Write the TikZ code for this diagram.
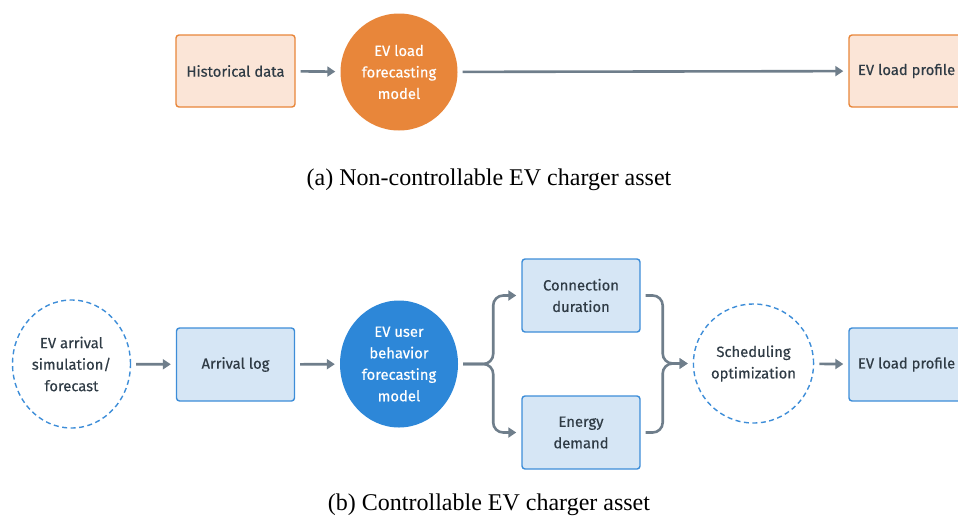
\documentclass[tikz,border=0pt]{standalone}
\usepackage{fontspec}
\setmainfont{Liberation Serif}
\newfontfamily\nodefont{Fira Sans}[FakeBold=0.4]
\usetikzlibrary{shapes.geometric,arrows.meta}
\definecolor{orfill}{HTML}{E8863A}
\definecolor{orlight}{HTML}{FBE5D7}
\definecolor{bluefill}{HTML}{2D87D8}
\definecolor{bluelight}{HTML}{D6E6F5}
\definecolor{blueline}{HTML}{3D8DD8}
\definecolor{arrowgray}{HTML}{6F7E8B}
\definecolor{txt}{HTML}{2F3B45}
\tikzset{
  lab/.style={font=\nodefont\fontsize{14.8}{21.5}\selectfont, text=txt, align=center},
  obox/.style={lab, draw=orfill, fill=orlight, line width=1.4pt, rounded corners=3pt, minimum width=119pt, minimum height=72pt, inner sep=0pt},
  bbox/.style={lab, draw=blueline, fill=bluelight, line width=1.4pt, rounded corners=3pt, minimum width=118pt, minimum height=73pt, inner sep=0pt},
  ocirc/.style={lab, text=white, ellipse, fill=orfill, minimum width=117pt, minimum height=117pt, inner sep=0pt},
  bcirc/.style={lab, text=white, ellipse, fill=bluefill, minimum width=118pt, minimum height=127pt, inner sep=0pt},
  dcirc/.style={lab, ellipse, draw=blueline, line width=1.4pt, dash pattern=on 5pt off 3.5pt, minimum width=118pt, minimum height=128pt, inner sep=0pt},
  arr/.style={draw=arrowgray, line width=2.6pt, -{Triangle[length=8pt,width=10pt]}, shorten >=5pt, shorten <=5pt},
  captext/.style={font=\fontsize{24}{28}\selectfont, text=black, anchor=base},
}
\begin{document}
\begin{tikzpicture}[x=1pt,y=-1pt]
\useasboundingbox (0,0) rectangle (958,520);
% (a)
\node[obox] (hist) at (235.5,71) {Historical data};
\node[ocirc] (elf) at (399,72) {EV load\\forecasting\\model};
\node[obox, minimum width=130pt] (prof1) at (914,71) {\makebox[112pt][l]{EV load profile}};
\draw[arr] (hist) -- (elf);
\draw[arr] (elf) -- (prof1);
\node[captext] (capa) at (489,185) {(a) Non-controllable EV charger asset};
% (b)
\node[dcirc] (arrsim) at (71.5,364) {EV arrival\\simulation/\\forecast};
\node[bbox] (alog) at (235.5,364.5) {Arrival log};
\node[bcirc] (ub) at (399,364) {EV user\\behavior\\forecasting\\model};
\node[bbox] (cd) at (581,295.5) {Connection\\duration};
\node[bbox] (ed) at (581,432.5) {Energy\\demand};
\node[dcirc, minimum width=119pt, minimum height=119pt] (sched) at (753.5,363.5) {Scheduling\\optimization};
\node[bbox, minimum width=130pt] (prof2) at (914,364.5) {\makebox[112pt][l]{EV load profile}};
\draw[arr] (arrsim) -- (alog);
\draw[arr] (alog) -- (ub);
\draw[arr, rounded corners=10pt] (ub.east) -- ++(35,0) |- (cd.west);
\draw[arr, rounded corners=10pt] (ub.east) -- ++(35,0) |- (ed.west);
\draw[arr, rounded corners=10pt] (cd.east) -- ++(22,0) |- (sched.west);
\draw[arr, rounded corners=10pt] (ed.east) -- ++(22,0) |- (sched.west);
\draw[arr] (sched) -- (prof2);
\node[captext] (capb) at (489,510) {(b) Controllable EV charger asset};
\end{tikzpicture}
\end{document}
